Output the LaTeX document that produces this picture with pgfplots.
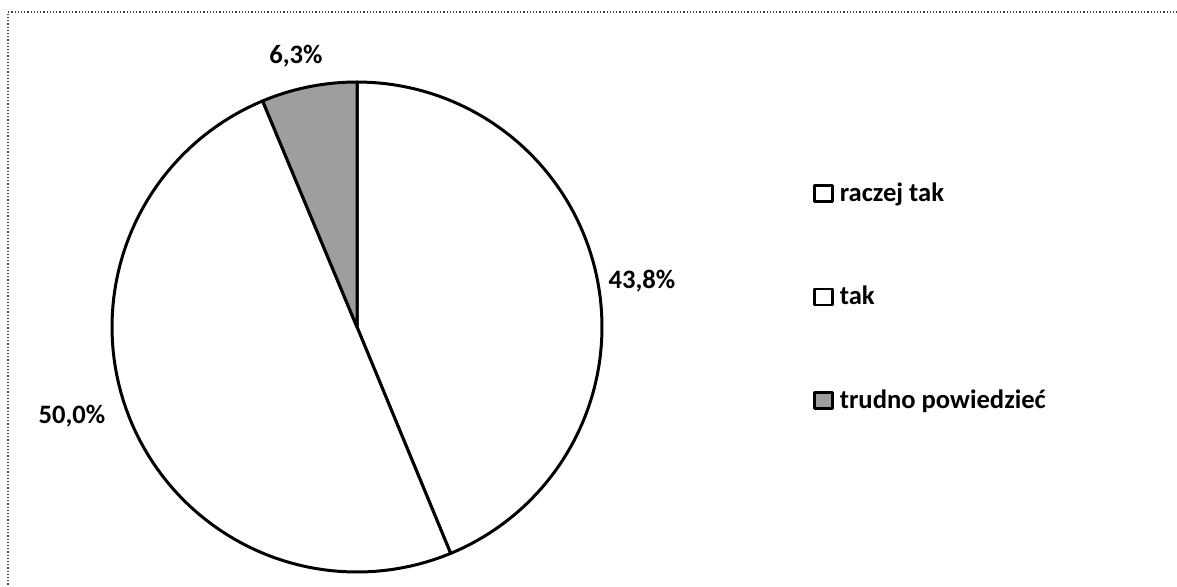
\documentclass[border=0pt]{standalone}
\usepackage{fontspec}
\setmainfont{Carlito}
\usepackage{pgfplots}
\pgfplotsset{compat=1.18}
\begin{document}
\begin{tikzpicture}
% shares (percent)
\pgfmathsetmacro{\pA}{43.8}% raczej tak
\pgfmathsetmacro{\pB}{50.0}% tak
\pgfmathsetmacro{\pC}{6.3}%  trudno powiedziec
\pgfmathsetmacro{\tot}{\pA+\pB+\pC}
\pgfmathsetmacro{\aA}{90}
\pgfmathsetmacro{\aB}{90-360*(\pA/\tot)}
\pgfmathsetmacro{\aC}{\aB-360*(\pB/\tot)}
\pgfmathsetmacro{\aD}{\aC-360*(\pC/\tot)}
\begin{axis}[name=ax, width=588.5pt, height=293pt, scale only axis,
  xmin=0, xmax=1177, ymin=0, ymax=586, hide axis, clip=false,
  legend image code/.code={\draw[#1, line width=1.4pt] (0pt,-4pt) rectangle (9pt,4pt);},
  legend style={draw=none, fill=none, inner sep=0pt, outer sep=0pt,
    at={(axis cs:813,289)}, anchor=west, row sep=41pt, column sep=3pt,
    font=\fontsize{13.3}{16}\selectfont\bfseries,
    nodes={inner sep=0pt}},
  legend cell align=left,
  every axis plot/.append style={line width=1.5pt, line join=round, samples=90},
]
\addplot[draw=black, fill=white, domain=\aB:\aA] ({357+245*cos(x)},{259+245*sin(x)}) -- (axis cs:357,259) -- cycle;
\addlegendentry{raczej tak}
\addplot[draw=black, fill=white, domain=\aC:\aB] ({357+245*cos(x)},{259+245*sin(x)}) -- (axis cs:357,259) -- cycle;
\addlegendentry{tak}
\addplot[draw=black, fill=black!38, domain=\aD:\aC] ({357+245*cos(x)},{259+245*sin(x)}) -- (axis cs:357,259) -- cycle;
\addlegendentry{trudno powiedzieć}
\begin{scope}[font=\fontsize{13.3}{16}\selectfont\bfseries]
\node at (axis cs:296,530) {6,3\%};
\node at (axis cs:642,305) {43,8\%};
\node at (axis cs:72,170) {50,0\%};
\end{scope}
\draw[black!75, line width=0.6pt, densely dotted] (axis cs:8,-5) -- (axis cs:8,574) -- (axis cs:1185,574);
\end{axis}
\pgfresetboundingbox
\path (ax.south west) rectangle (ax.north east);
\end{tikzpicture}
\end{document}
